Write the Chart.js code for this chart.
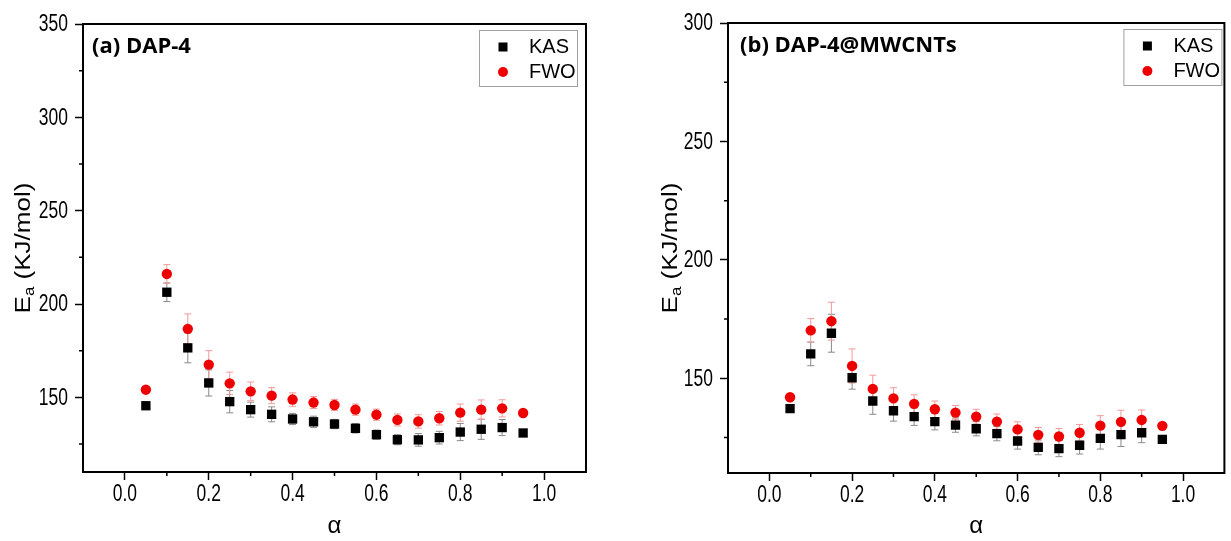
<!DOCTYPE html>
<html>
<head>
<meta charset="utf-8">
<script src="https://cdn.jsdelivr.net/npm/chart.js"></script>
<style>
  html, body { margin: 0; padding: 0; background: #fff; }
  .panel { position: absolute; top: 0; height: 541px; }
</style>
</head>
<body>
<div class="panel" style="left:0;width:600px"><canvas id="chartA"></canvas></div>
<div class="panel" style="left:640px;width:591px"><canvas id="chartB"></canvas></div>
<script>
// conversion degree
const alpha = [0.05, 0.10, 0.15, 0.20, 0.25, 0.30, 0.35, 0.40, 0.45, 0.50,
               0.55, 0.60, 0.65, 0.70, 0.75, 0.80, 0.85, 0.90, 0.95];

// (a) DAP-4
const kasA    = [145.5, 206.3, 176.5, 157.7, 147.7, 143.4, 140.9, 138.4, 136.9, 135.7,
                 133.4, 130.0, 127.3, 127.2, 128.4, 131.4, 132.9, 133.8, 130.9];
const fwoA    = [154.1, 216.1, 186.7, 167.5, 157.5, 153.2, 150.9, 148.8, 147.2, 145.9,
                 143.4, 140.7, 137.9, 137.1, 138.8, 141.8, 143.4, 144.1, 141.6];
const kasErrA = [1, 5, 8, 7, 6, 4, 4, 3, 3, 2.5, 2.5, 2.5, 2.7, 3.4, 3.4, 4.6, 5.4, 4.3, 1];
const fwoErrA = [1, 5, 8, 7.5, 6, 5, 4.3, 3.6, 3.2, 3, 3, 3, 3.2, 3.6, 3.6, 4.6, 5.2, 4.6, 1];

// (b) DAP-4@MWCNTs
const kasB    = [137.2, 160.3, 169.0, 150.2, 140.4, 136.3, 133.8, 131.7, 130.2, 128.7,
                 126.6, 123.5, 120.8, 120.3, 121.7, 124.6, 126.2, 127.0, 124.2];
const fwoB    = [142.0, 170.2, 174.1, 155.2, 145.5, 141.5, 139.2, 136.9, 135.5, 133.8,
                 131.7, 128.4, 126.1, 125.4, 127.0, 130.0, 131.6, 132.4, 129.9];
const kasErrB = [1, 5, 8, 4.8, 5.6, 4.4, 3.7, 3.5, 3, 3, 3, 3.4, 3.1, 3.4, 3.7, 4.5, 5, 4.2, 1];
const fwoErrB = [1, 5, 8, 7.2, 5.8, 4.5, 3.8, 3.5, 3, 3.1, 3.2, 3.2, 3.1, 3.4, 3.5, 4.2, 4.9, 4.2, 1];

// axis ticks
const xMajor  = [0.0, 0.2, 0.4, 0.6, 0.8, 1.0];
const xMinor  = [0.1, 0.3, 0.5, 0.7, 0.9];
const yMajorA = [150, 200, 250, 300, 350];
const yMinorA = [125, 175, 225, 275, 325];
const yMajorB = [150, 200, 250, 300];
const yMinorB = [125, 175, 225, 275];

const seriesNames = ['KAS', 'FWO'];

const SANS = '"Liberation Sans", Arial, sans-serif';
const SQUEEZE = 0.76; // tick labels in the source figure are horizontally condensed

const decor = {
  id: 'decor',
  beforeDatasetsDraw(chart, args, o) {
    const ctx = chart.ctx, xs = chart.scales.x, ys = chart.scales.y;
    const errs = [o.kasErr, o.fwoErr];
    const cols = ['#8a8a8a', '#f29a9a'];
    ctx.save();
    ctx.lineWidth = 1;
    chart.data.datasets.forEach((ds, i) => {
      ctx.strokeStyle = cols[i];
      ds.data.forEach((p, j) => {
        const e = errs[i][j];
        const x = xs.getPixelForValue(p.x);
        const y1 = ys.getPixelForValue(p.y - e), y2 = ys.getPixelForValue(p.y + e);
        ctx.beginPath();
        ctx.moveTo(x, y1); ctx.lineTo(x, y2);
        ctx.moveTo(x - 3.5, y1); ctx.lineTo(x + 3.5, y1);
        ctx.moveTo(x - 3.5, y2); ctx.lineTo(x + 3.5, y2);
        ctx.stroke();
      });
    });
    ctx.restore();
  },
  afterDraw(chart, args, o) {
    const ctx = chart.ctx, a = chart.chartArea;
    const xs = chart.scales.x, ys = chart.scales.y;
    ctx.save();
    // frame
    ctx.strokeStyle = '#000';
    ctx.lineWidth = 2;
    ctx.strokeRect(a.left, a.top, a.right - a.left, a.bottom - a.top);
    // minor ticks
    ctx.lineWidth = 1.5;
    ctx.beginPath();
    o.yMinor.forEach(v => {
      const y = ys.getPixelForValue(v);
      ctx.moveTo(a.left - 4, y); ctx.lineTo(a.left, y);
    });
    xMinor.forEach(v => {
      const x = xs.getPixelForValue(v);
      ctx.moveTo(x, a.bottom); ctx.lineTo(x, a.bottom + 4);
    });
    ctx.stroke();

    // condensed tick labels
    ctx.fillStyle = '#000';
    ctx.font = '23px ' + SANS;
    ctx.textAlign = 'right';
    ctx.textBaseline = 'middle';
    ys.ticks.forEach(t => {
      ctx.save();
      ctx.translate(a.left - 15, ys.getPixelForValue(t.value) + 1);
      ctx.scale(SQUEEZE, 1);
      ctx.fillText(String(t.value), 0, 0);
      ctx.restore();
    });
    ctx.textAlign = 'center';
    ctx.textBaseline = 'alphabetic';
    xs.ticks.forEach(t => {
      ctx.save();
      ctx.translate(xs.getPixelForValue(t.value), a.bottom + 29);
      ctx.scale(SQUEEZE, 1);
      ctx.fillText(t.value.toFixed(1), 0, 0);
      ctx.restore();
    });

    // legend
    const bx = a.right - o.legendInset - 98, by = a.top + 6, bw = 98, bh = 56;
    ctx.fillStyle = '#fff';
    ctx.fillRect(bx, by, bw, bh);
    ctx.strokeStyle = '#a0a0a0';
    ctx.lineWidth = 1;
    ctx.strokeRect(bx + 0.5, by + 0.5, bw, bh);
    ctx.font = '20px ' + SANS;
    ctx.textBaseline = 'middle';
    ctx.textAlign = 'left';
    ctx.fillStyle = '#000';
    ctx.fillRect(bx + 24 - 4.5, by + 17 - 4.5, 9, 9);
    ctx.fillText(seriesNames[0], bx + 50, by + 17);
    ctx.fillStyle = '#ee0000';
    ctx.beginPath();
    ctx.arc(bx + 24, by + 42, 5, 0, Math.PI * 2);
    ctx.fill();
    ctx.fillStyle = '#000';
    ctx.fillText(seriesNames[1], bx + 50, by + 42);

    // panel label
    ctx.font = 'bold 22px "Open Sans", sans-serif';
    ctx.textBaseline = 'alphabetic';
    ctx.fillText(o.label, a.left + o.labelDx, a.top + 29);

    // y title with subscript
    ctx.translate(o.yTitleX, (a.top + a.bottom) / 2);
    ctx.rotate(-Math.PI / 2);
    ctx.scale(1, 0.88);
    const big = '26px ' + SANS, small = '17px ' + SANS;
    ctx.font = big;
    const wE = ctx.measureText('E').width;
    const rest = ' (KJ/mol)';
    const wR = ctx.measureText(rest).width;
    ctx.font = small;
    const wa = ctx.measureText('a').width;
    let x0 = -(wE + wa + wR) / 2;
    ctx.font = big;
    ctx.fillText('E', x0, 0);
    ctx.font = small;
    ctx.fillText('a', x0 + wE, 5);
    ctx.font = big;
    ctx.fillText(rest, x0 + wE + wa, 0);
    ctx.restore();
  }
};

function makeChart(id, p) {
  const toPts = vals => vals.map((v, i) => ({ x: alpha[i], y: v }));
  return new Chart(document.getElementById(id), {
    type: 'scatter',
    data: {
      datasets: [
        { label: seriesNames[0], data: toPts(p.kas), pointStyle: 'rect', pointRadius: 6.6,
          backgroundColor: '#000', borderWidth: 0, pointHoverRadius: 6.6 },
        { label: seriesNames[1], data: toPts(p.fwo), pointStyle: 'circle', pointRadius: 5.2,
          backgroundColor: '#ee0000', borderWidth: 0, pointHoverRadius: 5.2 }
      ]
    },
    options: {
      responsive: true,
      maintainAspectRatio: false,
      animation: false,
      events: [],
      layout: { padding: { top: p.padTop, right: p.padRight, left: 0, bottom: 0 } },
      scales: {
        x: {
          type: 'linear', min: -0.1, max: 1.1,
          afterBuildTicks: s => { s.ticks = xMajor.map(v => ({ value: v })); },
          afterFit: s => { s.height = p.xAxisH; },
          ticks: { display: false },
          grid: { drawOnChartArea: false, drawTicks: true, tickLength: 8, tickWidth: 1.5, tickColor: '#000' },
          border: { display: true, width: 2, color: '#000' },
          title: { display: true, text: 'α', color: '#000', padding: { top: 0, bottom: 0 },
                   font: { size: 24, family: SANS } }
        },
        y: {
          type: 'linear', min: 110, max: p.yMax,
          afterBuildTicks: s => { s.ticks = p.yMajor.map(v => ({ value: v })); },
          afterFit: s => { s.width = p.yAxisW; },
          ticks: { display: false },
          grid: { drawOnChartArea: false, drawTicks: true, tickLength: 8, tickWidth: 1.5, tickColor: '#000' },
          border: { display: true, width: 2, color: '#000' }
        }
      },
      plugins: {
        legend: { display: false },
        tooltip: { enabled: false },
        decor: p
      }
    },
    plugins: [decor]
  });
}

makeChart('chartA', {
  kas: kasA, fwo: fwoA, kasErr: kasErrA, fwoErr: fwoErrA,
  yMax: 350, yMajor: yMajorA, yMinor: yMinorA,
  padTop: 24, padRight: 14, yAxisW: 83, xAxisH: 69,
  label: '(a) DAP-4', labelDx: 9, legendInset: 9, yTitleX: 30
});

makeChart('chartB', {
  kas: kasB, fwo: fwoB, kasErr: kasErrB, fwoErr: fwoErrB,
  yMax: 300, yMajor: yMajorB, yMinor: yMinorB,
  padTop: 23, padRight: 1.5, yAxisW: 88, xAxisH: 68,
  label: '(b) DAP-4@MWCNTs', labelDx: 12, legendInset: 3, yTitleX: 37
});
</script>
</body>
</html>
